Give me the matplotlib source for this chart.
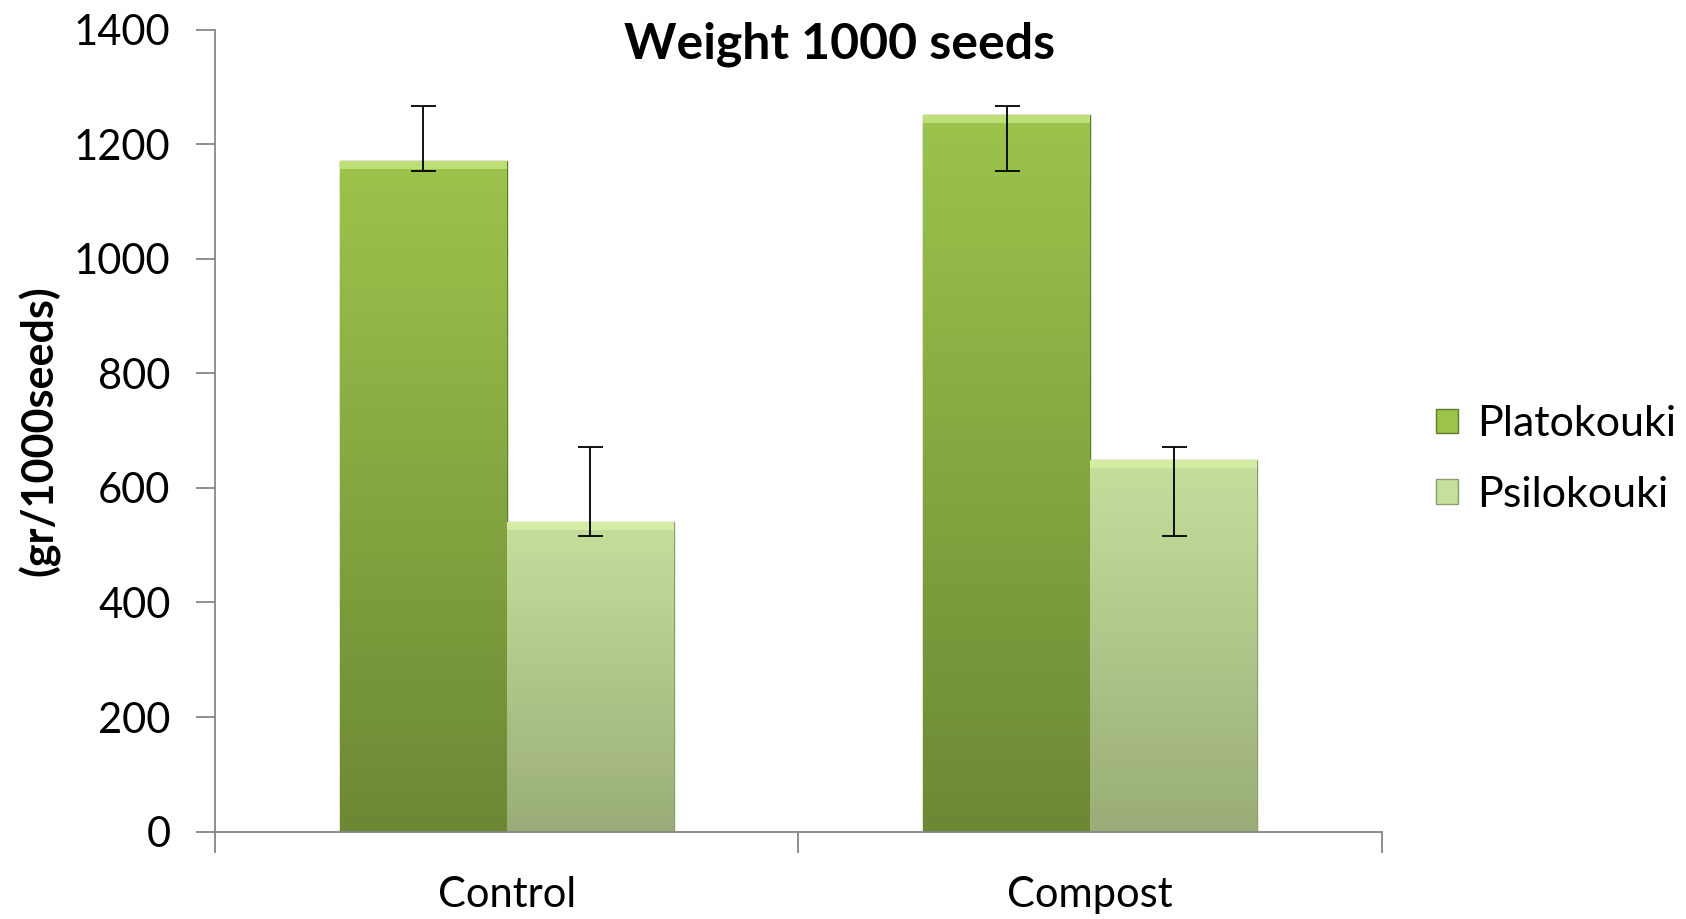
import matplotlib.pyplot as plt
import numpy as np
from matplotlib.patches import Patch
from matplotlib.colors import LinearSegmentedColormap

plt.rcParams['font.family'] = ['Lato', 'DejaVu Sans']

# data
categories = ["Control", "Compost"]
series = ["Platokouki", "Psilokouki"]
platokouki = [1171, 1252]
psilokouki = [540, 649]
# error bars (lower, upper) as drawn
plat_err_low = [17, 98]
plat_err_up = [97, 16]
psil_err_low = [24, 133]
psil_err_up = [132, 23]

top_cols = ["#9cc44c", "#c6df9c"]
bot_cols = ["#6c8834", "#9aad78"]
edge_cols = ["#5f7a2c", "#8b9d6c"]

fig = plt.figure(figsize=(16.86, 9.19), dpi=100)
ax = fig.add_axes([0.1275, 0.0952, 0.6922, 0.8722])

x = np.arange(len(categories))
w = 0.286
vals = [platokouki, psilokouki]
lows = [plat_err_low, psil_err_low]
ups = [plat_err_up, psil_err_up]

for i in range(2):
    xs = x + (i - 0.5) * w
    bars = ax.bar(xs, vals[i], width=w, color=top_cols[i], edgecolor=edge_cols[i],
                  linewidth=1.0, zorder=2)
    cmap = LinearSegmentedColormap.from_list("g%d" % i, [bot_cols[i], top_cols[i]])
    grad = np.linspace(0, 1, 256).reshape(-1, 1)
    for b in bars:
        x0, y0 = b.get_x(), b.get_y()
        bw, bh = b.get_width(), b.get_height()
        im = ax.imshow(grad, cmap=cmap, origin="lower", aspect="auto",
                       extent=(x0, x0 + bw, y0, y0 + bh), zorder=2.5)
        im.set_clip_path(b)
        # light bevel at the top
        ax.fill_between([x0, x0 + bw], y0 + bh - 14, y0 + bh,
                        color="#eaffb0", alpha=0.45, linewidth=0, zorder=2.6)
    ax.errorbar(xs, vals[i], yerr=[lows[i], ups[i]], fmt="none", ecolor="black",
                elinewidth=1.3, capsize=9, capthick=1.3, zorder=4)

ax.set_xlim(-0.5, 1.5)
ax.set_ylim(0, 1400)
ax.set_yticks(np.arange(0, 1401, 200))
ax.set_xticks([-0.5, 0.5, 1.5])
ax.set_xticklabels([])
ax.set_xticks(x, minor=True)
ax.set_xticklabels(categories, minor=True)

for s in ["top", "right"]:
    ax.spines[s].set_visible(False)
for s in ["left", "bottom"]:
    ax.spines[s].set_color("#868686")
    ax.spines[s].set_linewidth(1.3)

ax.tick_params(axis="y", direction="out", length=14, width=1.3, color="#868686",
               labelsize=30, pad=18)
ax.tick_params(axis="x", which="major", direction="out", length=15, width=1.3,
               color="#868686")
ax.tick_params(axis="x", which="minor", length=0, labelsize=30, pad=32)

ax.set_ylabel("(gr/1000seeds)", fontsize=31, fontweight="bold", labelpad=10)
fig.text(0.4977, 0.952, "Weight 1000 seeds", fontsize=36, fontweight="bold",
         ha="center", va="center")

handles = [Patch(facecolor=top_cols[0], edgecolor=edge_cols[0]),
           Patch(facecolor=top_cols[1], edgecolor=edge_cols[1])]
fig.legend(handles, series, loc="center left", bbox_to_anchor=(0.829, 0.5),
           frameon=False, fontsize=31, handlelength=0.5, handleheight=0.5,
           handletextpad=0.45, labelspacing=0.75)

fig.savefig("out.png", dpi=100)
